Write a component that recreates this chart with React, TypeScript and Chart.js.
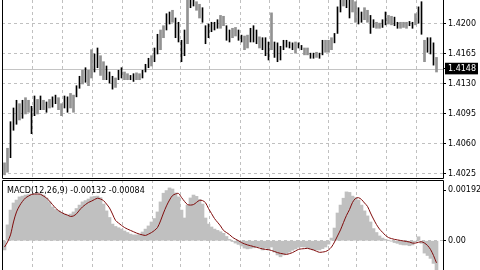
import React, { useEffect, useRef } from "react";
import { Chart, registerables } from "chart.js";
Chart.register(...registerables);

// ---- data ----
const highs = [
  1.4038, 1.4055, 1.4086, 1.4102, 1.4111, 1.4107, 1.4111, 1.4114, 1.4111, 1.4104,
  1.4116, 1.4112, 1.4116, 1.4111, 1.4109, 1.4112, 1.4115, 1.4117, 1.4114, 1.4107,
  1.4116, 1.4115, 1.4119, 1.4117, 1.4128, 1.4139, 1.4146, 1.4149, 1.4146, 1.4170,
  1.4165, 1.4172, 1.4163, 1.4156, 1.4151, 1.4144, 1.4139, 1.4137, 1.4146, 1.4149,
  1.4144, 1.4142, 1.4140, 1.4142, 1.4143, 1.4142, 1.4146, 1.4153, 1.4160, 1.4163,
  1.4172, 1.4188, 1.4193, 1.4198, 1.4212, 1.4214, 1.4216, 1.4207, 1.4202, 1.4181,
  1.4193, 1.4228, 1.4228, 1.4228, 1.4226, 1.4223, 1.4219, 1.4198, 1.4200, 1.4202,
  1.4202, 1.4205, 1.4210, 1.4209, 1.4198, 1.4193, 1.4195, 1.4196, 1.4193, 1.4187,
  1.4186, 1.4187, 1.4195, 1.4198, 1.4193, 1.4185, 1.4184, 1.4184, 1.4179, 1.4213,
  1.4179, 1.4178, 1.4174, 1.4181, 1.4181, 1.4179, 1.4178, 1.4179, 1.4178, 1.4175,
  1.4172, 1.4172, 1.4166, 1.4166, 1.4167, 1.4166, 1.4181, 1.4181, 1.4181, 1.4184,
  1.4189, 1.4220, 1.4228, 1.4228, 1.4228, 1.4228, 1.4228, 1.4226, 1.4219, 1.4214,
  1.4219, 1.4216, 1.4210, 1.4205, 1.4202, 1.4201, 1.4205, 1.4214, 1.4210, 1.4209,
  1.4208, 1.4202, 1.4202, 1.4202, 1.4202, 1.4203, 1.4202, 1.4212, 1.4220, 1.4226,
  1.4181, 1.4184, 1.4184, 1.4178, 1.4161,
];
const lows = [
  1.4024, 1.4027, 1.4044, 1.4076, 1.4083, 1.4088, 1.4090, 1.4095, 1.4097, 1.4072,
  1.4093, 1.4095, 1.4100, 1.4100, 1.4097, 1.4102, 1.4103, 1.4107, 1.4100, 1.4093,
  1.4102, 1.4097, 1.4102, 1.4097, 1.4115, 1.4125, 1.4130, 1.4132, 1.4128, 1.4137,
  1.4144, 1.4149, 1.4140, 1.4135, 1.4135, 1.4131, 1.4124, 1.4126, 1.4135, 1.4137,
  1.4135, 1.4135, 1.4135, 1.4133, 1.4135, 1.4135, 1.4137, 1.4144, 1.4149, 1.4151,
  1.4156, 1.4165, 1.4170, 1.4184, 1.4193, 1.4200, 1.4202, 1.4184, 1.4179, 1.4156,
  1.4163, 1.4177, 1.4219, 1.4221, 1.4216, 1.4207, 1.4202, 1.4177, 1.4184, 1.4191,
  1.4193, 1.4195, 1.4195, 1.4198, 1.4181, 1.4179, 1.4184, 1.4186, 1.4181, 1.4179,
  1.4170, 1.4172, 1.4179, 1.4179, 1.4177, 1.4172, 1.4170, 1.4163, 1.4158, 1.4170,
  1.4161, 1.4156, 1.4158, 1.4170, 1.4173, 1.4172, 1.4170, 1.4166, 1.4172, 1.4170,
  1.4164, 1.4164, 1.4160, 1.4160, 1.4161, 1.4160, 1.4164, 1.4167, 1.4167, 1.4170,
  1.4178, 1.4189, 1.4214, 1.4221, 1.4219, 1.4207, 1.4214, 1.4202, 1.4200, 1.4202,
  1.4205, 1.4202, 1.4189, 1.4196, 1.4195, 1.4195, 1.4196, 1.4199, 1.4200, 1.4199,
  1.4198, 1.4195, 1.4195, 1.4196, 1.4195, 1.4198, 1.4195, 1.4199, 1.4201, 1.4188,
  1.4156, 1.4167, 1.4165, 1.4152, 1.4144,
];
// 1 = grey bar, 0 = black bar
const barShade = [
  1, 1, 0, 0, 0, 1, 0, 1, 1, 0,
  0, 1, 0, 1, 0, 1, 0, 0, 1, 1,
  0, 0, 1, 1, 0, 0, 1, 0, 1, 1,
  0, 0, 1, 1, 0, 0, 0, 1, 0, 0,
  1, 1, 0, 0, 1, 1, 0, 0, 0, 1,
  0, 0, 1, 1, 0, 0, 1, 0, 0, 0,
  0, 1, 0, 0, 1, 1, 0, 0, 0, 0,
  0, 0, 1, 1, 0, 0, 1, 1, 0, 0,
  1, 1, 0, 0, 0, 1, 0, 0, 0, 1,
  0, 0, 0, 0, 0, 0, 0, 1, 0, 0,
  1, 1, 0, 0, 1, 0, 0, 1, 1, 1,
  0, 0, 0, 1, 0, 0, 1, 1, 0, 0,
  1, 1, 0, 0, 1, 1, 0, 0, 1, 1,
  0, 0, 1, 1, 1, 0, 0, 1, 0, 0,
  1, 0, 0, 0, 1,
];
const macdHist = [
  -0.00035, 0.0006, 0.00116, 0.00143, 0.00154, 0.00166, 0.00169, 0.00173, 0.00175, 0.00177,
  0.00177, 0.00176, 0.00177, 0.00173, 0.00162, 0.00147, 0.00128, 0.00118, 0.00113, 0.00107,
  0.00101, 0.00097, 0.00101, 0.00109, 0.00122, 0.00135, 0.00147, 0.00152, 0.00158, 0.00166,
  0.00168, 0.00169, 0.00163, 0.00139, 0.00113, 0.00088, 0.00063, 0.00054, 0.00049, 0.00044,
  0.00037, 0.00031, 0.00025, 0.00022, 0.00022, 0.00023, 0.00033, 0.00044, 0.00056, 0.00071,
  0.00084, 0.00109, 0.00147, 0.0018, 0.0019, 0.002, 0.00196, 0.00181, 0.00166, 0.00116,
  0.00086, 0.00135, 0.00162, 0.00173, 0.00168, 0.00156, 0.00139, 0.00086, 0.00063, 0.00052,
  0.00044, 0.00039, 0.00034, 0.00028, 0.00016, 0.00005, -0.00003, -0.00009, -0.00014, -0.0002,
  -0.00028, -0.00031, -0.00029, -0.00027, -0.00023, -0.00024, -0.00035, -0.00028, -0.00035, -0.00024,
  -0.00043, -0.00054, -0.00061, -0.00054, -0.00049, -0.00043, -0.00036, -0.00031, -0.00025, -0.00023,
  -0.00024, -0.00027, -0.00031, -0.00035, -0.00035, -0.00035, -0.0003, -0.00024, -0.00013, 0.0001,
  0.00048, 0.00105, 0.00135, 0.00161, 0.00185, 0.00183, 0.00169, 0.00163, 0.00154, 0.00135,
  0.00113, 0.00094, 0.00071, 0.00046, 0.00031, 0.00018, 0.0001, 0.00005, 0.00001, -0.00001,
  -0.00007, -0.0001, -0.00014, -0.00016, -0.00016, -0.00019, -0.00016, -0.00005, 0.00015, -0.0001,
  -0.00047, -0.00056, -0.00067, -0.00086, -0.00132,
];
const macdSignal = [
  -0.00024, -0.00005, 0.00022, 0.00071, 0.00109, 0.00132, 0.00149, 0.00162, 0.00169, 0.00175,
  0.00177, 0.00177, 0.00176, 0.00169, 0.00162, 0.0015, 0.00137, 0.00124, 0.00114, 0.00107,
  0.00101, 0.00097, 0.00092, 0.00094, 0.00102, 0.00116, 0.00128, 0.00137, 0.00145, 0.0015,
  0.00156, 0.00161, 0.00158, 0.00152, 0.00139, 0.00124, 0.00101, 0.00077, 0.00067, 0.00058,
  0.0005, 0.00044, 0.00039, 0.00034, 0.00029, 0.00025, 0.00022, 0.0002, 0.00025, 0.00031,
  0.00039, 0.0005, 0.00075, 0.00105, 0.00132, 0.00154, 0.00171, 0.00177, 0.00179, 0.00164,
  0.00149, 0.00137, 0.00135, 0.00137, 0.00145, 0.00153, 0.00152, 0.00144, 0.00122, 0.00103,
  0.00084, 0.0007, 0.00056, 0.00039, 0.00031, 0.00023, 0.00013, 0.00006, 0.0, -0.00007,
  -0.00012, -0.00016, -0.00019, -0.00022, -0.00025, -0.00028, -0.00031, -0.00033, -0.00034, -0.00037,
  -0.00041, -0.00045, -0.00048, -0.0005, -0.00052, -0.00049, -0.00045, -0.00039, -0.00033, -0.00031,
  -0.0003, -0.00029, -0.00032, -0.00035, -0.0004, -0.00044, -0.00043, -0.00041, -0.00035, -0.00024,
  -0.00005, 0.00018, 0.00041, 0.00069, 0.00096, 0.00118, 0.00145, 0.0016, 0.00163, 0.00156,
  0.00143, 0.0013, 0.00105, 0.00082, 0.00061, 0.00044, 0.00032, 0.0002, 0.00012, 0.00008,
  0.00005, 0.00003, 0.00001, -0.00001, -0.00003, -0.00005, -0.00009, -0.00009, -0.00006, -0.00004,
  -0.00009, -0.00018, -0.00033, -0.00056, -0.00084,
];
const priceTicks = [1.4025, 1.406, 1.4095, 1.413, 1.4165, 1.42];
const lastPrice = 1.4148;
const macdTicks = [0.00192, 0];
const gridBars = [9.17, 19.17, 29.17, 39.17, 49.17, 58.83, 68.5, 78.5, 88.27, 98.27, 108, 117.4, 127.4, 137.4];
const slotCount = 147;
const priceRange = [1.40203, 1.4228];
const macdRange = [-0.00111, 0.0023];

const FONT = '"DejaVu Sans", Verdana, sans-serif';
const GRID = "#c0c0c0";

function framePlugin(top: boolean, bottom: boolean) {
  return {
    id: "frame",
    afterDraw(chart: any) {
      const { ctx, chartArea: a } = chart;
      const l = Math.round(a.left) + 0.5;
      const r = Math.round(a.right) + 0.5;
      const t = Math.round(a.top) + 0.5;
      const b = Math.round(a.bottom) + 0.5;
      const y0 = top ? t : 0;
      const y1 = bottom ? b : chart.height;
      ctx.save();
      ctx.strokeStyle = "#000";
      ctx.lineWidth = 1;
      ctx.beginPath();
      ctx.moveTo(l, y0);
      ctx.lineTo(l, y1);
      ctx.moveTo(r, y0);
      ctx.lineTo(r, y1);
      if (top) {
        ctx.moveTo(l, t);
        ctx.lineTo(r, t);
      }
      if (bottom) {
        ctx.moveTo(l, b);
        ctx.lineTo(r, b);
      }
      ctx.stroke();
      ctx.restore();
    },
  };
}

const xScale = () => ({
  type: "linear",
  min: -5 / 6,
  max: slotCount - 5 / 6,
  offset: false,
  display: true,
  afterBuildTicks: (s: any) => {
    s.ticks = gridBars.map((v) => ({ value: v }));
  },
  afterFit: (s: any) => {
    s.height = 0;
    s.paddingLeft = 0;
    s.paddingRight = 0;
  },
  ticks: { display: false, autoSkip: false },
  grid: { color: GRID, drawTicks: false, lineWidth: 1, offset: false },
  border: { display: false, dash: [3, 3] },
});

const yFit = (s: any) => {
  s.width = 37;
  s.paddingTop = 0;
  s.paddingBottom = 0;
};

export default function App() {
  const mainRef = useRef<HTMLCanvasElement>(null);
  const macdRef = useRef<HTMLCanvasElement>(null);

  useEffect(() => {
    const blackData: any[] = [];
    const greyData: any[] = [];
    highs.forEach((h, i) => {
      (barShade[i] ? greyData : blackData).push({ x: i, y: [lows[i], h] });
    });

    const priceLine = {
      id: "priceLine",
      beforeDatasetsDraw(chart: any) {
        const { ctx, chartArea: a } = chart;
        const y = Math.round(chart.scales.y.getPixelForValue(lastPrice)) + 0.5;
        ctx.save();
        ctx.strokeStyle = "#c4c4c4";
        ctx.lineWidth = 1;
        ctx.beginPath();
        ctx.moveTo(a.left, y);
        ctx.lineTo(a.right, y);
        ctx.stroke();
        ctx.restore();
      },
    };

    const main = new Chart(mainRef.current as HTMLCanvasElement, {
      type: "bar",
      data: {
        datasets: [
          { data: blackData, backgroundColor: "#000", barThickness: 1, grouped: false, borderWidth: 0 } as any,
          { data: greyData, backgroundColor: "#929292", barThickness: 2, grouped: false, borderWidth: 0 } as any,
        ],
      },
      options: {
        responsive: false,
        animation: false,
        events: [],
        layout: { padding: { left: 2, top: 0, right: 0, bottom: 1 } },
        plugins: { legend: { display: false }, tooltip: { enabled: false } },
        scales: {
          x: xScale() as any,
          y: {
            type: "linear",
            position: "right",
            min: priceRange[0],
            max: priceRange[1],
            afterBuildTicks: (s: any) => {
              s.ticks = [...priceTicks, lastPrice].map((v) => ({ value: v }));
            },
            afterFit: yFit,
            ticks: {
              autoSkip: false,
              padding: 2,
              font: { family: FONT, size: 8 },
              color: (c: any) => (c.tick && c.tick.value === lastPrice ? "#fff" : "#000"),
              showLabelBackdrop: (c: any) => !!(c.tick && c.tick.value === lastPrice),
              backdropColor: "#000",
              backdropPadding: { left: 3, right: 2, top: 1, bottom: 1 },
              callback: (v: any) => Number(v).toFixed(4),
            },
            grid: {
              color: (c: any) => (c.tick && c.tick.value === lastPrice ? "rgba(0,0,0,0)" : GRID),
              tickLength: 3,
              tickColor: "#000",
              tickBorderDash: [],
            },
            border: { display: false, dash: [3, 3] },
          } as any,
        },
      },
      plugins: [priceLine, framePlugin(false, true)],
    });

    const last = macdHist.length - 1;
    const macdLabel = `MACD(12,26,9) ${macdHist[last].toFixed(5)} ${macdSignal[last].toFixed(5)}`;
    const labelPlugin = {
      id: "macdLabel",
      afterDatasetsDraw(chart: any) {
        const { ctx } = chart;
        ctx.save();
        ctx.font = `8px ${FONT}`;
        ctx.fillStyle = "#000";
        ctx.textBaseline = "middle";
        ctx.textAlign = "left";
        ctx.fillText(macdLabel, 7, 12);
        ctx.restore();
      },
    };

    const macd = new Chart(macdRef.current as HTMLCanvasElement, {
      type: "bar",
      data: {
        datasets: [
          {
            type: "line",
            data: macdSignal.map((v, i) => ({ x: i, y: v })),
            borderColor: "#800c0c",
            borderWidth: 1,
            pointRadius: 0,
            tension: 0.3,
            order: 0,
          } as any,
          {
            type: "bar",
            data: macdHist.map((v, i) => ({ x: i, y: v })),
            backgroundColor: "#c0c0c0",
            barPercentage: 1,
            categoryPercentage: 1,
            borderWidth: 0,
            order: 1,
          } as any,
        ],
      },
      options: {
        responsive: false,
        animation: false,
        events: [],
        layout: { padding: { left: 2, top: 1, right: 0, bottom: 0 } },
        plugins: { legend: { display: false }, tooltip: { enabled: false } },
        scales: {
          x: xScale() as any,
          y: {
            type: "linear",
            position: "right",
            min: macdRange[0],
            max: macdRange[1],
            afterBuildTicks: (s: any) => {
              s.ticks = macdTicks.map((v) => ({ value: v }));
            },
            afterFit: yFit,
            ticks: {
              autoSkip: false,
              padding: 2,
              font: { family: FONT, size: 8 },
              color: "#000",
              callback: (v: any) => (Number(v) === 0 ? "0.00" : Number(v).toFixed(5)),
            },
            grid: {
              color: (c: any) => (c.tick && c.tick.value === 0 ? GRID : "rgba(0,0,0,0)"),
              tickLength: 3,
              tickColor: "#000",
              tickBorderDash: [],
            },
            border: { display: false, dash: [3, 3] },
          } as any,
        },
      },
      plugins: [labelPlugin, framePlugin(true, false)],
    });

    return () => {
      main.destroy();
      macd.destroy();
    };
  }, []);

  return (
    <div
      style={{
        position: "fixed",
        left: 0,
        top: 0,
        width: 480,
        height: 270,
        background: "#fff",
        overflow: "hidden",
      }}
    >
      <canvas ref={mainRef} width={480} height={179} style={{ position: "absolute", left: 0, top: 0 }} />
      <canvas ref={macdRef} width={480} height={91} style={{ position: "absolute", left: 0, top: 179 }} />
    </div>
  );
}
